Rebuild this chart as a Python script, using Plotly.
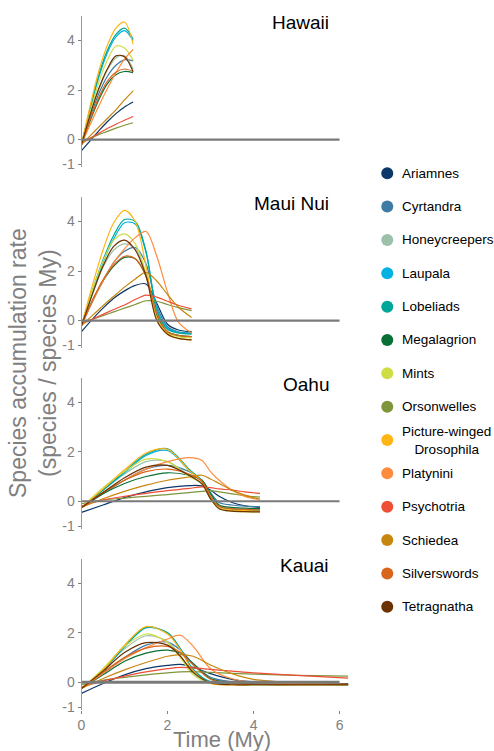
import plotly.graph_objects as go

W, H = 494, 751

GROUPS = [
    "Ariamnes", "Cyrtandra", "Honeycreepers", "Laupala", "Lobeliads",
    "Megalagrion", "Mints", "Orsonwelles", "Picture-winged<br>Drosophila",
    "Platynini", "Psychotria", "Schiedea", "Silverswords", "Tetragnatha",
]
COLORS = [
    "#0b3868", "#3d7ba5", "#9cc0a8", "#00b2e2", "#00a697",
    "#0a6f35", "#cfdd45", "#7f953b", "#ffb515",
    "#ff8b3e", "#ee4d36", "#c7860e", "#d9641b", "#6b3100",
]
ISLANDS = ["Hawaii", "Maui Nui", "Oahu", "Kauai"]

# time grids (My), one per island
T_HAWAII = [0, 0.2, 0.4, 0.6, 0.8, 1.0, 1.2]
T_MAUI = [0, 0.25, 0.5, 0.75, 1.0, 1.25, 1.5, 1.75, 2.0, 2.25, 2.56]
T_OAHU = [0, 0.5, 1.0, 1.5, 2.0, 2.5, 2.8, 3.0, 3.2, 3.5, 3.8, 4.15]
T_KAUAI = [0, 0.5, 1.0, 1.5, 2.0, 2.3, 2.6, 3.0, 3.5, 4.0, 5.0, 6.2]

# species accumulation rate, rows in GROUPS order
HAWAII = [
    [-0.45, -0.05, 0.35, 0.72, 1.05, 1.32, 1.52],
    [-0.2, 0.9, 1.85, 2.55, 3.0, 3.22, 3.18],
    [-0.2, 1.0, 2.0, 2.8, 3.3, 3.38, 2.85],
    [-0.2, 1.2, 2.5, 3.5, 4.15, 4.4, 4.0],
    [-0.2, 1.25, 2.6, 3.6, 4.25, 4.5, 4.05],
    [-0.2, 0.75, 1.6, 2.25, 2.62, 2.75, 2.7],
    [-0.2, 1.1, 2.3, 3.2, 3.78, 3.7, 3.2],
    [-0.1, 0.05, 0.2, 0.33, 0.46, 0.58, 0.68],
    [-0.2, 1.35, 2.75, 3.8, 4.5, 4.75, 3.85],
    [-0.2, 0.6, 1.35, 2.05, 2.7, 3.25, 3.64],
    [-0.15, 0.05, 0.25, 0.45, 0.62, 0.78, 0.93],
    [-0.2, 0.15, 0.5, 0.85, 1.2, 1.6, 1.97],
    [-0.2, 0.8, 1.7, 2.35, 2.72, 2.85, 2.75],
    [-0.2, 1.0, 2.05, 2.85, 3.38, 3.35, 2.74],
]
MAUI = [
    [-0.45, 0.05, 0.5, 0.9, 1.2, 1.42, 1.48, 0.7, -0.15, -0.38, -0.45],
    [-0.2, 0.75, 1.6, 2.35, 2.8, 2.95, 2.3, 0.6, -0.25, -0.45, -0.5],
    [-0.2, 1.05, 2.15, 2.85, 3.1, 2.9, 1.9, 0.1, -0.45, -0.6, -0.65],
    [-0.2, 1.15, 2.35, 3.3, 3.95, 3.9, 2.75, 0.5, -0.3, -0.48, -0.52],
    [-0.2, 1.2, 2.45, 3.45, 4.08, 4.0, 2.8, 0.4, -0.35, -0.5, -0.55],
    [-0.2, 0.8, 1.6, 2.2, 2.55, 2.5, 1.8, 0.2, -0.45, -0.6, -0.65],
    [-0.2, 1.2, 2.4, 3.25, 3.5, 3.1, 1.9, 0.1, -0.5, -0.65, -0.7],
    [-0.1, 0.05, 0.2, 0.35, 0.5, 0.65, 0.8, 0.78, 0.65, 0.52, 0.4],
    [-0.2, 1.4, 2.85, 3.95, 4.45, 4.0, 2.2, 0.1, -0.55, -0.72, -0.78],
    [-0.2, 0.75, 1.6, 2.35, 2.9, 3.35, 3.6, 2.6, 1.15, -0.05, -0.5],
    [-0.15, 0.05, 0.25, 0.45, 0.63, 0.85, 1.03, 0.95, 0.78, 0.62, 0.47],
    [-0.2, 0.2, 0.6, 0.98, 1.35, 1.68, 1.95, 1.6, 1.05, 0.55, 0.12],
    [-0.2, 0.8, 1.65, 2.25, 2.6, 2.5, 1.8, 0.3, -0.45, -0.6, -0.65],
    [-0.2, 1.05, 2.2, 3.0, 3.25, 2.85, 1.8, 0.0, -0.55, -0.72, -0.78],
]
OAHU = [
    [-0.45, -0.15, 0.15, 0.38, 0.55, 0.63, 0.62, 0.45, 0.2, -0.05, -0.18, -0.25],
    [-0.25, 0.3, 0.85, 1.3, 1.45, 1.2, 0.85, 0.35, -0.05, -0.15, -0.2, -0.22],
    [-0.25, 0.45, 1.1, 1.6, 1.6, 1.05, 0.72, 0.15, -0.25, -0.35, -0.38, -0.4],
    [-0.25, 0.45, 1.15, 1.85, 2.05, 1.25, 0.78, 0.12, -0.2, -0.3, -0.33, -0.35],
    [-0.25, 0.45, 1.2, 1.9, 2.12, 1.3, 0.82, 0.15, -0.2, -0.32, -0.35, -0.37],
    [-0.25, 0.3, 0.72, 1.0, 1.15, 1.05, 0.85, 0.3, -0.15, -0.25, -0.28, -0.3],
    [-0.25, 0.55, 1.2, 1.7, 1.6, 1.0, 0.7, 0.1, -0.3, -0.4, -0.42, -0.43],
    [-0.1, 0.05, 0.13, 0.2, 0.27, 0.35, 0.4, 0.43, 0.38, 0.3, 0.22, 0.17],
    [-0.25, 0.5, 1.27, 1.95, 2.1, 1.25, 0.8, 0.1, -0.25, -0.35, -0.38, -0.4],
    [-0.25, 0.35, 0.85, 1.3, 1.6, 1.76, 1.65, 1.2, 0.85, 0.45, 0.2, 0.05],
    [-0.2, 0.05, 0.2, 0.32, 0.43, 0.52, 0.58, 0.55, 0.5, 0.45, 0.38, 0.32],
    [-0.25, 0.1, 0.4, 0.65, 0.85, 0.98, 1.05, 0.9, 0.72, 0.45, 0.25, 0.08],
    [-0.25, 0.35, 0.85, 1.2, 1.3, 1.1, 0.8, 0.2, -0.2, -0.3, -0.33, -0.35],
    [-0.25, 0.35, 0.95, 1.38, 1.45, 1.05, 0.7, 0.1, -0.3, -0.4, -0.42, -0.43],
]
KAUAI = [
    [-0.45, -0.05, 0.3, 0.55, 0.68, 0.72, 0.6, 0.35, 0.12, 0.02, -0.03, -0.05],
    [-0.25, 0.35, 1.0, 1.5, 1.62, 1.3, 0.75, 0.2, 0.02, -0.05, -0.08, -0.1],
    [-0.25, 0.5, 1.35, 1.88, 1.65, 1.05, 0.35, -0.02, -0.08, -0.1, -0.1, -0.1],
    [-0.25, 0.47, 1.42, 2.2, 2.0, 1.35, 0.52, 0.02, -0.07, -0.09, -0.1, -0.1],
    [-0.25, 0.48, 1.45, 2.22, 2.0, 1.35, 0.5, 0.0, -0.08, -0.1, -0.1, -0.1],
    [-0.25, 0.3, 0.85, 1.18, 1.3, 1.18, 0.75, 0.15, -0.02, -0.06, -0.08, -0.1],
    [-0.25, 0.55, 1.45, 1.95, 1.6, 1.0, 0.3, -0.05, -0.1, -0.1, -0.1, -0.1],
    [-0.1, 0.08, 0.2, 0.3, 0.38, 0.42, 0.43, 0.4, 0.36, 0.33, 0.28, 0.25],
    [-0.25, 0.5, 1.5, 2.25, 1.95, 1.3, 0.45, -0.05, -0.1, -0.1, -0.1, -0.1],
    [-0.25, 0.35, 0.95, 1.4, 1.75, 1.9, 1.45, 0.55, 0.14, 0.0, -0.05, -0.08],
    [-0.2, 0.05, 0.25, 0.42, 0.55, 0.6, 0.58, 0.52, 0.45, 0.38, 0.28, 0.17],
    [-0.25, 0.15, 0.5, 0.8, 1.05, 1.12, 1.05, 0.7, 0.35, 0.12, -0.02, -0.08],
    [-0.25, 0.4, 1.0, 1.38, 1.45, 1.2, 0.7, 0.12, -0.05, -0.08, -0.1, -0.1],
    [-0.25, 0.45, 1.2, 1.6, 1.5, 1.05, 0.4, -0.02, -0.1, -0.1, -0.1, -0.1],
]

TIMES = [T_HAWAII, T_MAUI, T_OAHU, T_KAUAI]
RATES = [HAWAII, MAUI, OAHU, KAUAI]

Y_TICKS = [-1, 0, 2, 4]
X_TICKS = [0, 2, 4, 6]

FONT = "Liberation Sans, Arial, sans-serif"
GREY = "#808080"
PANEL_TOP = [15.8, 196.8, 377.5, 558.5]   # px from top
PANEL_H = 151
X0, X1 = 81.5, 349

fig = go.Figure()
annotations = []
shapes = []

for i, (island, t, rates) in enumerate(zip(ISLANDS, TIMES, RATES)):
    ax = "" if i == 0 else str(i + 1)
    last = i == len(ISLANDS) - 1
    top = PANEL_TOP[i]

    fig.update_layout({
        f"xaxis{ax}": dict(
            domain=[X0 / W, X1 / W], range=[0, 6.22], anchor=f"y{ax}",
            showgrid=False, zeroline=False, showline=False,
            ticks="outside" if last else "", ticklen=3, tickcolor=GREY,
            showticklabels=last, tickvals=X_TICKS,
            tickfont=dict(size=14, color=GREY, family=FONT),
            automargin=False,
        ),
        f"yaxis{ax}": dict(
            domain=[1 - (top + PANEL_H) / H, 1 - top / H],
            range=[-1.1, 5.0], anchor=f"x{ax}",
            showgrid=False, zeroline=False,
            showline=True, linecolor="#9a9a9a", linewidth=1,
            ticks="outside", ticklen=3, tickcolor=GREY,
            tickvals=Y_TICKS, ticktext=[str(v) for v in Y_TICKS],
            tickfont=dict(size=14, color=GREY, family=FONT),
            automargin=False,
        ),
    })

    for name, color, y in zip(GROUPS, COLORS, rates):
        fig.add_trace(go.Scatter(
            x=t, y=y, mode="lines", name=name,
            line=dict(color=color, width=1.2, shape="spline", smoothing=0.9),
            xaxis=f"x{ax}", yaxis=f"y{ax}",
            showlegend=False, hoverinfo="skip",
        ))

    # zero reference line
    shapes.append(dict(
        type="line", xref=f"x{ax}", yref=f"y{ax}", x0=0, x1=6, y0=0, y1=0,
        line=dict(color="#7a7a7a", width=2.8 if last else 2.2), layer="above",
    ))

    annotations.append(dict(
        text=island, xref="paper", yref="paper",
        x=331 / W, y=1 - (top + 6.5) / H, xanchor="right", yanchor="middle",
        showarrow=False, font=dict(size=19, color="black", family=FONT),
    ))

# legend drawn on its own hidden axis
fig.add_trace(go.Scatter(
    x=[0.1] * len(GROUPS), y=list(range(len(GROUPS))), mode="markers",
    marker=dict(color=COLORS, size=12), xaxis="x5", yaxis="y5",
    showlegend=False, hoverinfo="skip",
))
for k, name in enumerate(GROUPS):
    annotations.append(dict(
        text=name, xref="paper", yref="y5", x=400 / W, y=k,
        xanchor="left", yanchor="middle", align="center", showarrow=False,
        font=dict(size=13.5, color="black", family=FONT),
    ))

annotations.append(dict(
    text="Species accumulation rate<br>(species / species My)",
    xref="paper", yref="paper", x=33 / W, y=1 - 363 / H,
    xanchor="center", yanchor="middle", textangle=-90, showarrow=False,
    font=dict(size=23, color=GREY, family=FONT),
))
annotations.append(dict(
    text="Time (My)", xref="paper", yref="paper", x=221.7 / W, y=1 - 739.5 / H,
    xanchor="center", yanchor="middle", showarrow=False,
    font=dict(size=22, color=GREY, family=FONT),
))

fig.update_layout(
    width=W, height=H,
    margin=dict(l=0, r=0, t=0, b=0, autoexpand=False),
    paper_bgcolor="white", plot_bgcolor="white",
    xaxis5=dict(domain=[375.4 / W, 1.0], range=[0, 1], visible=False, anchor="y5"),
    yaxis5=dict(domain=[1 - 623.4 / H, 1 - 156.6 / H], range=[13.5, -0.5],
                visible=False, anchor="x5"),
    annotations=annotations,
    shapes=shapes,
    showlegend=False,
    font=dict(family=FONT),
)

# the page's default body margin would shift the fixed-size figure
fig.write_html(
    "out.html",
    config={"displayModeBar": False},
    post_script="document.body.style.margin='0';",
)
